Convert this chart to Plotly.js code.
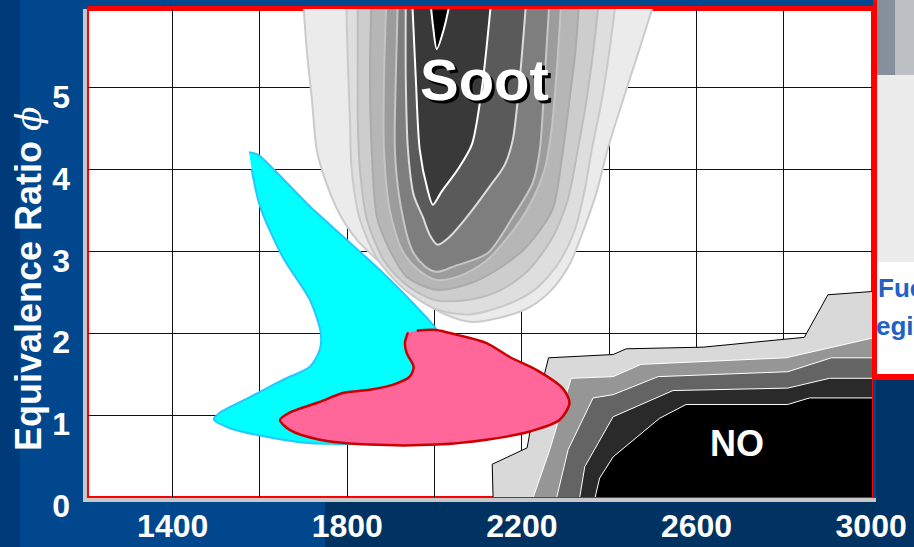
<!DOCTYPE html>
<html>
<head>
<meta charset="utf-8">
<script src="https://cdn.plot.ly/plotly-3.0.1.min.js"></script>
<style>html,body{margin:0;padding:0;background:#00478e;}#chart{width:914px;height:547px;}</style>
</head>
<body>
<div id="chart"></div>
<script>
// ---- axis ticks ----
const xTickVals = [1400, 1800, 2200, 2600, 3000];
const xTickText = ['1400', '1800', '2200', '2600', '3000'];
const xGridVals = [1400, 1600, 1800, 2000, 2200, 2400, 2600, 2800];
const yTickVals = [0, 1, 2, 3, 4, 5];
const yTickText = ['0', '1', '2', '3', '4', '5'];

// ---- soot contour levels (temperature K, equivalence ratio), outer to inner ----
const sootL1T = [1698, 1707, 1719, 1730, 1749, 1783, 1822, 1874, 1943, 2012, 2080, 2149, 2218, 2268, 2309, 2339, 2371, 2396, 2428, 2465, 2509];
const sootL1Phi = [6.14, 5.47, 4.85, 4.24, 3.88, 3.45, 3.14, 2.87, 2.53, 2.26, 2.14, 2.19, 2.32, 2.53, 2.84, 3.23, 3.72, 4.24, 4.79, 5.40, 6.14];
const sootL2T = [1797, 1801, 1806, 1810, 1829, 1870, 1932, 2005, 2080, 2161, 2229, 2282, 2321, 2344, 2360, 2383, 2401, 2417];
const sootL2Phi = [6.14, 5.34, 4.61, 4.00, 3.39, 2.90, 2.53, 2.29, 2.23, 2.34, 2.53, 2.84, 3.26, 3.75, 4.24, 4.85, 5.47, 6.14];
const sootL3T = [1824, 1824, 1824, 1829, 1845, 1886, 1943, 2005, 2080, 2149, 2213, 2270, 2305, 2328, 2348, 2364, 2378];
const sootL3Phi = [6.14, 5.34, 4.61, 4.00, 3.39, 2.87, 2.56, 2.40, 2.41, 2.52, 2.76, 3.17, 3.63, 4.24, 4.85, 5.47, 6.14];
const sootL4T = [1856, 1852, 1856, 1868, 1897, 1936, 2005, 2087, 2161, 2211, 2270, 2291, 2309, 2323, 2332];
const sootL4Phi = [6.14, 5.22, 4.24, 3.42, 3.02, 2.69, 2.53, 2.62, 2.84, 3.06, 3.51, 4.12, 4.85, 5.47, 6.14];
const sootL5T = [1890, 1884, 1884, 1897, 1925, 1961, 2005, 2058, 2115, 2172, 2218, 2252, 2268, 2280, 2291];
const sootL5Phi = [6.14, 5.10, 4.24, 3.51, 3.02, 2.78, 2.65, 2.70, 2.87, 3.20, 3.57, 4.00, 4.49, 5.22, 6.14];
const sootL6T = [1916, 1911, 1909, 1920, 1948, 1977, 2005, 2046, 2122, 2179, 2225, 2241, 2252, 2264];
const sootL6Phi = [6.14, 5.10, 4.24, 3.63, 3.02, 2.82, 2.75, 2.82, 2.98, 3.42, 3.84, 4.24, 5.10, 6.14];
const sootL7T = [1934, 1934, 1939, 1952, 1973, 1989, 2007, 2035, 2074, 2126, 2161, 2179, 2195, 2211];
const sootL7Phi = [6.14, 5.10, 4.24, 3.69, 3.42, 3.20, 3.08, 3.18, 3.42, 3.79, 4.06, 4.36, 5.10, 6.14];
const sootL8T = [1948, 1957, 1966, 1984, 1996, 2016, 2053, 2085, 2108, 2131];
const sootL8Phi = [6.14, 5.10, 4.24, 3.75, 3.57, 3.73, 4.00, 4.30, 4.98, 6.14];
const sootL9T = [1989, 1996, 2005, 2021, 2039];
const sootL9Phi = [6.14, 5.77, 5.47, 5.71, 6.14];

// ---- NO contour bands, outer to inner ----
const noB1T = [2134, 2132, 2212, 2218, 2261, 2409, 2439, 2615, 2847, 2901, 3004, 3100, 3100, 2134];
const noB1Phi = [-0.02, 0.40, 0.60, 0.78, 1.70, 1.74, 1.81, 1.83, 1.95, 2.47, 2.51, 2.51, -0.5, -0.5];
const noB2T = [2225, 2264, 2293, 2313, 2409, 2473, 2805, 3002, 3100, 3100, 2225];
const noB2Phi = [-0.02, 0.58, 1.10, 1.45, 1.47, 1.62, 1.70, 1.94, 1.94, -0.5, -0.5];
const noB3T = [2279, 2306, 2363, 2409, 2512, 2809, 2909, 3002, 3100, 3100, 2279];
const noB3Phi = [-0.02, 0.58, 1.21, 1.25, 1.47, 1.53, 1.70, 1.70, 1.70, -0.5, -0.5];
const noB4T = [2332, 2344, 2409, 2546, 2809, 2905, 3002, 3100, 3100, 2332];
const noB4Phi = [-0.02, 0.37, 0.98, 1.30, 1.33, 1.45, 1.45, 1.45, -0.5, -0.5];
const noB5T = [2367, 2378, 2409, 2515, 2576, 2809, 2859, 3002, 3100, 3100, 2367];
const noB5Phi = [-0.02, 0.23, 0.49, 0.96, 1.13, 1.13, 1.21, 1.21, 1.21, -0.5, -0.5];

// ---- cyan region ----
const cyanT = [1575, 1595, 1639, 1714, 1799, 1881, 1950, 2005, 2023, 1989, 1897, 1760, 1691, 1600, 1531, 1494, 1508, 1577, 1652, 1714, 1737, 1739, 1714, 1652, 1600, 1581];
const cyanPhi = [4.21, 4.18, 3.96, 3.55, 3.14, 2.74, 2.37, 2.04, 1.80, 1.19, 0.70, 0.65, 0.67, 0.75, 0.84, 0.95, 1.03, 1.22, 1.43, 1.59, 1.80, 2.01, 2.41, 2.93, 3.55, 4.00];

// ---- pink region ----
const pinkT = [1959, 2003, 2051, 2119, 2172, 2234, 2293, 2309, 2286, 2218, 2119, 2005, 1852, 1737, 1668, 1646, 1668, 1737, 1790, 1852, 1904, 1943, 1952, 1936, 1932, 1939];
const pinkPhi = [2.03, 2.04, 1.98, 1.88, 1.71, 1.55, 1.33, 1.15, 0.94, 0.80, 0.70, 0.64, 0.64, 0.70, 0.82, 0.94, 1.03, 1.16, 1.27, 1.31, 1.37, 1.47, 1.59, 1.76, 1.88, 2.01];

// ---- styles ----
const sootFill = ['#ebebeb', '#dedede', '#cdcdcd', '#b6b6b6', '#9c9c9c', '#7e7e7e', '#5a5a5a', '#393939', '#000000'];
const sootLine = ['#cbcbcb', '#c9c9c9', '#bdbdbd', '#ababab', '#c4c4c4', '#c6c6c6', '#dcdcdc', '#ffffff', '#ffffff'];
const noFill = ['#d9d9d9', '#969696', '#646464', '#2a2a2a', '#000000'];
const noLine = ['#000000', '#ffffff', '#ffffff', '#ffffff', '#ffffff'];

const sootSets = [[sootL1T, sootL1Phi], [sootL2T, sootL2Phi], [sootL3T, sootL3Phi], [sootL4T, sootL4Phi], [sootL5T, sootL5Phi], [sootL6T, sootL6Phi], [sootL7T, sootL7Phi], [sootL8T, sootL8Phi], [sootL9T, sootL9Phi]];
const noSets = [[noB1T, noB1Phi], [noB2T, noB2Phi], [noB3T, noB3Phi], [noB4T, noB4Phi], [noB5T, noB5Phi]];

const traces = [];
sootSets.forEach((s, i) => {
  traces.push({x: s[0], y: s[1], type: 'scatter', mode: 'lines', fill: 'toself', fillcolor: sootFill[i],
    line: {color: sootLine[i], width: 2, shape: 'spline', smoothing: 0.8}, hoverinfo: 'skip', showlegend: false});
});
noSets.forEach((s, i) => {
  traces.push({x: s[0], y: s[1], type: 'scatter', mode: 'lines', fill: 'toself', fillcolor: noFill[i],
    line: {color: noLine[i], width: 1}, hoverinfo: 'skip', showlegend: false});
});
traces.push({x: cyanT, y: cyanPhi, type: 'scatter', mode: 'lines', fill: 'toself', fillcolor: '#00ffff',
  line: {color: '#22c8ff', width: 2, shape: 'spline', smoothing: 0.8}, hoverinfo: 'skip', showlegend: false});
traces.push({x: pinkT, y: pinkPhi, type: 'scatter', mode: 'lines', fill: 'toself', fillcolor: '#ff6699',
  line: {color: '#cc0000', width: 2.5, shape: 'spline', smoothing: 0.8}, hoverinfo: 'skip', showlegend: false});

const FONT = 'Liberation Sans, Arial, sans-serif';
const tickFont = {family: FONT, size: 32, color: '#ffffff', weight: 'bold'};

const layout = {
  width: 914, height: 547,
  margin: {l: 88, r: 42, t: 9, b: 50},
  paper_bgcolor: '#00478e',
  plot_bgcolor: '#ffffff',
  showlegend: false,
  xaxis: {
    range: [1206, 3002], tickvals: xTickVals, ticktext: xTickText, tickfont: tickFont,
    showgrid: true, gridcolor: '#111111', gridwidth: 1, zeroline: false, showline: false, ticks: '',
    ticklabelstandoff: 7,
    minor: {tickvals: xGridVals, showgrid: true, gridcolor: '#111111', gridwidth: 1, ticks: ''}
  },
  yaxis: {
    range: [0, 5.96], tickvals: yTickVals, ticktext: yTickText, tickfont: tickFont,
    showgrid: true, gridcolor: '#111111', gridwidth: 1, zeroline: false, showline: false, ticks: '',
    ticklabelstandoff: 17, ticklabelshift: 9
  },
  shapes: [
    {type: 'rect', xref: 'paper', yref: 'paper', x0: -0.2, x1: -0.0867, y0: -0.2, y1: 1.1, fillcolor: '#003a78', line: {width: 0}, layer: 'below'},
    {type: 'rect', xref: 'paper', yref: 'paper', x0: 0.3023, x1: 1.1, y0: -0.2, y1: -0.0082, fillcolor: '#003262', line: {width: 0}, layer: 'below'},
    {type: 'rect', xref: 'paper', yref: 'paper', x0: 1.0051, x1: 1.1, y0: -0.2, y1: 0.2398, fillcolor: '#003366', line: {width: 0}, layer: 'below'},
    {type: 'rect', xref: 'paper', yref: 'paper', x0: 1.0051, x1: 1.1, y0: 0.2398, y1: 0.252, fillcolor: '#ff0000', line: {width: 0}, layer: 'below'},
    {type: 'rect', xref: 'paper', yref: 'paper', x0: 1.0051, x1: 1.1, y0: 0.252, y1: 0.4816, fillcolor: '#ffffff', line: {width: 0}, layer: 'below'},
    {type: 'rect', xref: 'paper', yref: 'paper', x0: 1.0051, x1: 1.1, y0: 0.4816, y1: 0.8648, fillcolor: '#ececec', line: {width: 0}, layer: 'below'},
    {type: 'rect', xref: 'paper', yref: 'paper', x0: 1.0051, x1: 1.0293, y0: 0.8648, y1: 1.1, fillcolor: '#86909c', line: {width: 0}, layer: 'below'},
    {type: 'rect', xref: 'paper', yref: 'paper', x0: 1.0293, x1: 1.1, y0: 0.8648, y1: 1.1, fillcolor: '#bcc0c4', line: {width: 0}, layer: 'below'},
    {type: 'rect', xref: 'paper', yref: 'paper', x0: -0.0064, x1: -0.0013, y0: -0.0102, y1: 1.0, fillcolor: '#c8c8c8', line: {width: 0}, layer: 'below'},
    {type: 'rect', xref: 'paper', yref: 'paper', x0: -0.0064, x1: 1.0051, y0: -0.0102, y1: -0.002, fillcolor: '#c8c8c8', line: {width: 0}, layer: 'below'},
    {type: 'rect', xref: 'paper', yref: 'paper', x0: 0, x1: 1, y0: 0, y1: 1, line: {color: '#ff0000', width: 2}, layer: 'below'},
    {type: 'rect', xref: 'paper', yref: 'paper', x0: 0, x1: 1.0051, y0: 0.9959, y1: 1.0061, fillcolor: '#ff0000', line: {width: 0}, layer: 'below'},
    {type: 'rect', xref: 'paper', yref: 'paper', x0: 1.0013, x1: 1.0064, y0: 0.2398, y1: 1.0184, fillcolor: '#ff0000', line: {width: 0}, layer: 'below'}
  ],
  annotations: [
    {xref: 'paper', yref: 'paper', x: -0.0765, y: 0.4467, xanchor: 'center', yanchor: 'middle', textangle: -90, showarrow: false,
      text: "Equivalence Ratio <span style=\"font-family:'DejaVu Serif';font-weight:normal\"><i>ϕ</i></span>",
      font: {family: FONT, size: 36, color: '#ffffff', weight: 'bold'}},
    {x: 2115, y: 5.1, xref: 'x', yref: 'y', text: 'Soot', showarrow: false,
      font: {family: FONT, size: 58, color: '#ffffff', weight: 'bold', shadow: '3px 3px 0px #000000'}},
    {x: 2692, y: 0.65, xref: 'x', yref: 'y', text: 'NO', showarrow: false,
      font: {family: FONT, size: 36, color: '#ffffff', weight: 'bold'}},
    {xref: 'paper', yref: 'paper', x: 1.0051, y: 0.4283, xanchor: 'left', yanchor: 'middle', text: 'Fue', showarrow: false,
      font: {family: FONT, size: 26, color: '#2262c4', weight: 'bold'}},
    {xref: 'paper', yref: 'paper', x: 1.003, y: 0.3504, xanchor: 'left', yanchor: 'middle', text: 'egi', showarrow: false,
      font: {family: FONT, size: 26, color: '#2262c4', weight: 'bold'}}
  ]
};

Plotly.newPlot('chart', traces, layout, {staticPlot: true, displayModeBar: false});
</script>
</body>
</html>
